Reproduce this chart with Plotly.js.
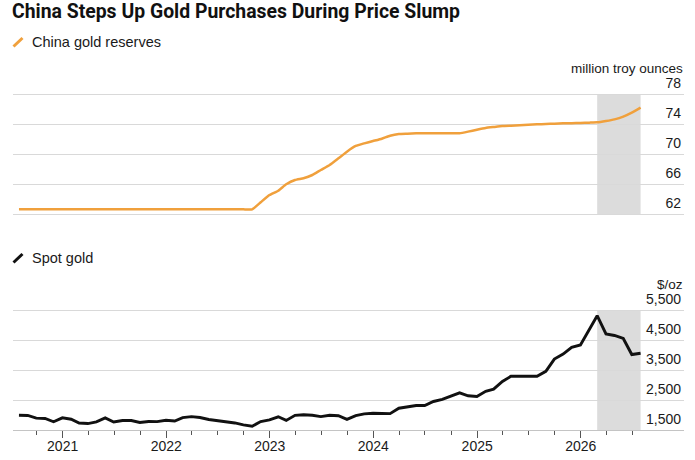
<!DOCTYPE html>
<html>
<head>
<meta charset="utf-8">
<script src="https://cdn.plot.ly/plotly-3.0.1.min.js"></script>
<style>html,body{margin:0;padding:0;background:#fff;}#chart{width:695px;height:460px;}</style>
</head>
<body>
<div id="chart"></div>
<script>
// Month-end dates
const months = [
  '2020-07-31','2020-08-31','2020-09-30','2020-10-31','2020-11-30','2020-12-31',
  '2021-01-31','2021-02-28','2021-03-31','2021-04-30','2021-05-31','2021-06-30',
  '2021-07-31','2021-08-31','2021-09-30','2021-10-31','2021-11-30','2021-12-31',
  '2022-01-31','2022-02-28','2022-03-31','2022-04-30','2022-05-31','2022-06-30',
  '2022-07-31','2022-08-31','2022-09-30','2022-10-31','2022-11-30','2022-12-31',
  '2023-01-31','2023-02-28','2023-03-31','2023-04-30','2023-05-31','2023-06-30',
  '2023-07-31','2023-08-31','2023-09-30','2023-10-31','2023-11-30','2023-12-31',
  '2024-01-31','2024-02-29','2024-03-31','2024-04-30','2024-05-31','2024-06-30',
  '2024-07-31','2024-08-31','2024-09-30','2024-10-31','2024-11-30','2024-12-31',
  '2025-01-31','2025-02-28','2025-03-31','2025-04-30','2025-05-31','2025-06-30',
  '2025-07-31','2025-08-31','2025-09-30','2025-10-31','2025-11-30','2025-12-31',
  '2026-01-31','2026-02-28','2026-03-31','2026-04-30','2026-05-31','2026-06-30',
  '2026-07-31'
];

// China gold reserves, million troy ounces
const reserves = [
  62.62,62.62,62.62,62.62,62.62,62.62,
  62.62,62.62,62.62,62.62,62.62,62.62,
  62.62,62.62,62.62,62.62,62.62,62.62,
  62.62,62.62,62.62,62.62,62.62,62.62,
  62.62,62.62,62.62,62.62,63.56,64.53,
  65.11,65.96,66.53,66.76,67.20,67.87,
  68.53,69.42,70.31,71.07,71.42,71.73,
  72.04,72.44,72.67,72.71,72.76,72.76,
  72.76,72.76,72.76,72.76,72.98,73.24,
  73.47,73.60,73.73,73.78,73.84,73.91,
  73.96,74.00,74.04,74.09,74.11,74.13,
  74.18,74.22,74.40,74.62,74.98,75.51,
  76.18
];

// Spot gold, $/oz
const spotGold = [
  1990,1985,1895,1885,1775,1905,
  1860,1735,1715,1770,1905,1765,
  1815,1815,1750,1785,1780,1825,
  1800,1915,1945,1915,1850,1820,
  1790,1735,1670,1625,1780,1835,
  1940,1820,1990,2010,1990,1945,
  1990,1975,1855,1980,2036,2060,
  2050,2045,2225,2280,2315,2315,
  2450,2520,2640,2740,2640,2620,
  2790,2860,3120,3290,3290,3300,
  3290,3455,3865,4030,4255,4335,
  4875,5310,4700,4650,4550,4015,
  4060
];

const shadeStart = '2026-02-28';
const shadeEnd = '2026-07-31';

const reserveTicks = [62, 66, 70, 74, 78];
const reserveTickText = ['62', '66', '70', '74', '78'];
const goldTicks = [1500, 2500, 3500, 4500, 5500];
const goldTickText = ['1,500', '2,500', '3,500', '4,500', '5,500'];

const FONT = '"Liberation Sans", Arial, sans-serif';
const TXT = '#1a1a1a';
const GRID = '#d9d9d9';

// geometry helpers (pixels -> paper)
const W = 695, H = 460, ML = 13, MR = 11, MT = 66, MB = 30;
const PW = W - ML - MR, PH = H - MT - MB;
const px = v => (v - ML) / PW;
const py = v => (H - MB - v) / PH;

const traces = [
  {
    x: months, y: reserves, type: 'scatter', mode: 'lines',
    xaxis: 'x2', yaxis: 'y2',
    line: {color: '#f0a03c', width: 2.5, shape: 'spline', smoothing: 0.4},
    hoverinfo: 'skip', showlegend: false
  },
  {
    x: months, y: spotGold, type: 'scatter', mode: 'lines',
    xaxis: 'x', yaxis: 'y',
    line: {color: '#111111', width: 2.9},
    hoverinfo: 'skip', showlegend: false
  }
];

const layout = {
  width: W, height: H,
  margin: {l: ML, r: MR, t: MT, b: MB, pad: 0},
  paper_bgcolor: '#ffffff', plot_bgcolor: '#ffffff',
  font: {family: FONT, size: 14, color: TXT},
  showlegend: false,
  title: {
    text: 'China Steps Up Gold Purchases During Price Slump',
    x: 12 / W, xanchor: 'left', xref: 'container',
    y: 1 - 11.5 / H, yanchor: 'middle', yref: 'container',
    font: {family: '"Liberation Sans Narrow", "Roboto", sans-serif', size: 19.4, weight: 'bold', color: '#111'}
  },
  xaxis: {
    type: 'date', domain: [0, 1], anchor: 'y',
    range: ['2020-07-10', '2026-12-31'],
    tickformat: '%Y', dtick: 'M12', tick0: '2021-01-01',
    ticks: 'outside', ticklen: 7, tickwidth: 1, tickcolor: '#555',
    ticklabelstandoff: -4,
    minor: {dtick: 'M3', tick0: '2021-01-01', ticks: 'outside', ticklen: 4, tickwidth: 1, tickcolor: '#555', showgrid: false},
    showline: true, linecolor: '#c4c4c4', linewidth: 1,
    showgrid: false, zeroline: false,
    tickfont: {family: FONT, size: 14, color: TXT},
    fixedrange: true
  },
  xaxis2: {
    type: 'date', domain: [0, 1], anchor: 'y2', matches: 'x',
    showticklabels: false, ticks: '',
    showline: true, linecolor: GRID, linewidth: 1,
    showgrid: false, zeroline: false, fixedrange: true
  },
  yaxis: {
    domain: [0, py(286)], anchor: 'x',
    range: [1500, 5500 + 24 / 0.03],
    side: 'right',
    tickmode: 'array', tickvals: goldTicks, ticktext: goldTickText,
    ticklabelposition: 'inside', ticklabelshift: -11, ticklabelstandoff: 0,
    ticks: '', showline: false, zeroline: false,
    showgrid: true, gridcolor: GRID, gridwidth: 1,
    tickfont: {family: FONT, size: 14, color: TXT},
    fixedrange: true
  },
  yaxis2: {
    domain: [py(214), 1], anchor: 'x2',
    range: [62, 78 + (94 - MT) / 7.5],
    side: 'right',
    tickmode: 'array', tickvals: reserveTicks, ticktext: reserveTickText,
    ticklabelposition: 'inside', ticklabelshift: -11, ticklabelstandoff: 0,
    ticks: '', showline: false, zeroline: false,
    showgrid: true, gridcolor: GRID, gridwidth: 1,
    tickfont: {family: FONT, size: 14, color: TXT},
    fixedrange: true
  },
  shapes: [
    {type: 'rect', xref: 'x2', yref: 'y2', x0: shadeStart, x1: shadeEnd, y0: 62, y1: 78,
     fillcolor: '#dcdcdc', line: {width: 0}, layer: 'below'},
    {type: 'rect', xref: 'x', yref: 'y', x0: shadeStart, x1: shadeEnd, y0: 1500, y1: 5500,
     fillcolor: '#dcdcdc', line: {width: 0}, layer: 'below'},
    {type: 'line', xref: 'paper', yref: 'paper', x0: px(13.5), y0: py(46.5), x1: px(22.5), y1: py(38),
     line: {color: '#f0a03c', width: 3}},
    {type: 'line', xref: 'paper', yref: 'paper', x0: px(13.5), y0: py(262.5), x1: px(22.5), y1: py(254),
     line: {color: '#111111', width: 3}}
  ],
  annotations: [
    {text: 'China gold reserves', xref: 'paper', yref: 'paper', x: px(31), y: py(41.5),
     xanchor: 'left', yanchor: 'middle', showarrow: false, borderpad: 0,
     font: {family: FONT, size: 14.5, color: TXT}},
    {text: 'Spot gold', xref: 'paper', yref: 'paper', x: px(31), y: py(257.5),
     xanchor: 'left', yanchor: 'middle', showarrow: false, borderpad: 0,
     font: {family: FONT, size: 14.5, color: TXT}},
    {text: 'million troy ounces', xref: 'paper', yref: 'paper', x: 1, y: py(68),
     xanchor: 'right', yanchor: 'middle', showarrow: false, borderpad: 0,
     font: {family: FONT, size: 13.5, color: TXT}},
    {text: '$/oz', xref: 'paper', yref: 'paper', x: 1, y: py(284),
     xanchor: 'right', yanchor: 'middle', showarrow: false, borderpad: 0,
     font: {family: FONT, size: 13.5, color: TXT}}
  ]
};

Plotly.newPlot('chart', traces, layout, {staticPlot: true, displayModeBar: false});
</script>
</body>
</html>
